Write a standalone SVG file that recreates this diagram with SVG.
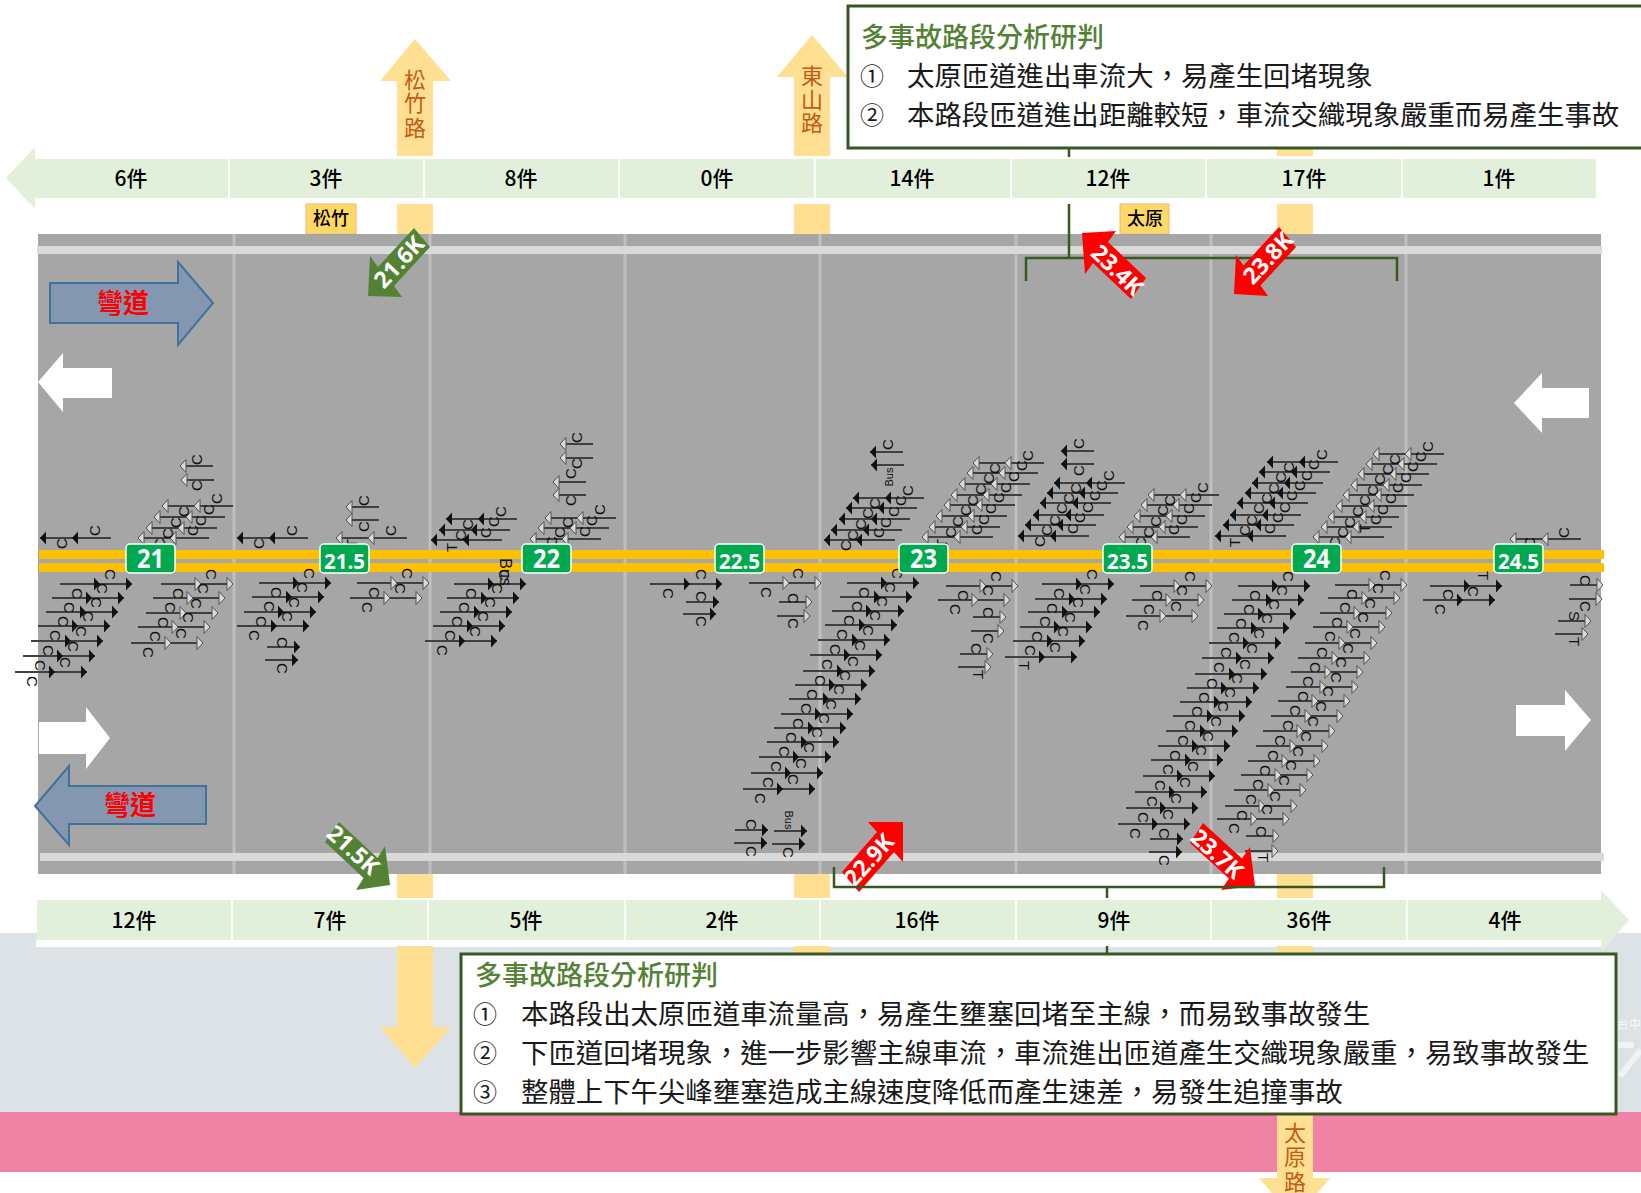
<svg xmlns="http://www.w3.org/2000/svg" width="1641" height="1193" viewBox="0 0 1641 1193">
<style>
text{font-family:"Noto Sans CJK TC","Noto Sans",sans-serif}
.lane{fill:#e2efda}
.sep{stroke:#fff;stroke-width:2}
.cnt{font-size:21px;font-weight:500;text-anchor:middle;fill:#000}
.ramp{fill:#ffe093}
.rt{font-size:22px;fill:#c55a11;text-anchor:middle}
.st{fill:#ffd966;stroke:#f4b183;stroke-width:1}
.stt{font-size:18px;font-weight:500;text-anchor:middle;fill:#000}
.div{stroke:#bfbfbf;stroke-width:3}
.edge{fill:#d9d9d9}
.yl{fill:#ffc000}
.sign{fill:#00a94f;stroke:#fff;stroke-width:1.5}
.kn{font-family:"Noto Sans",sans-serif;font-weight:700;fill:#fff;text-anchor:middle}
.wa{fill:#fff}
.bl{fill:#8497b0;stroke:#41719c;stroke-width:2}
.blt{font-size:27px;font-weight:700;fill:#f00;text-anchor:middle}
.kr{fill:#f00}
.kg{fill:#548235}
.kt{font-family:"Noto Sans",sans-serif;font-size:23px;font-weight:700;fill:#fff;text-anchor:middle}
.br{fill:none;stroke:#385723;stroke-width:2.5}
.box{fill:#fff;stroke:#385723;stroke-width:3}
.ti{font-size:27px;font-weight:500;fill:#548235}
.ln{font-size:27.4px;fill:#1a1a1a}
.num{font-size:24px;fill:#1a1a1a;text-anchor:middle}
.v{font-family:"Liberation Sans",sans-serif;font-size:15px;fill:#111}
.bus{font-family:"Liberation Sans",sans-serif;font-size:11px;fill:#111;text-anchor:middle}
.l{stroke:#404040;stroke-width:1.8;fill:none}
.hd{fill:#111}
.hl{fill:#d9d9d9;stroke:#505050;stroke-width:1}
</style>
<defs>
<g id="ed"><path class="l" d="M0 0H72"/><path class="hd" d="M40 0l-6-6.500v13zM72 0l-6-6.500v13z"/></g>
<g id="el"><path class="l" d="M0 0H72"/><path class="hl" d="M40 0l-6-6.500v13zM72 0l-6-6.500v13z"/></g>
<g id="wd"><path class="l" d="M0 0H71"/><path class="hd" d="M0 0l6-6.500v13zM32 0l6-6.500v13z"/></g>
<g id="wl"><path class="l" d="M0 0H71"/><path class="hl" d="M0 0l6-6.500v13zM32 0l6-6.500v13z"/></g>
<g id="sed"><path class="l" d="M0 0H33"/><path class="hd" d="M33 0l-6-6.500v13z"/></g>
<g id="sel"><path class="l" d="M0 0H33"/><path class="hl" d="M33 0l-6-6.500v13z"/></g>
<g id="swd"><path class="l" d="M0 0H33"/><path class="hd" d="M0 0l6-6.500v13z"/></g>
<g id="swl"><path class="l" d="M0 0H33"/><path class="hl" d="M0 0l6-6.500v13z"/></g>
</defs>
<rect width="1641" height="1193" fill="#fff"/>
<rect y="933" width="1641" height="179" fill="#dde2e6"/>
<rect y="1112" width="1641" height="60" fill="#f082a6"/>
<rect x="36" y="940" width="1566" height="7" fill="#fff"/>
<g id="watermark" opacity=".8"><text x="1617" y="1029" font-size="12" fill="#fff">台中</text><path d="M1618 1045H1634M1641 1050L1620 1076" stroke="#fff" stroke-width="6" fill="none" opacity=".7"/></g>

<g id="ramp-songzhu">
<path class="ramp" d="M415 39L451 81H433V156H397V81H380Z"/><rect class="ramp" x="397" y="204" width="36" height="30"/>
<rect class="ramp" x="397" y="874" width="36" height="24"/><path class="ramp" d="M397 946H433V1027H451L415 1068L380 1027H397Z"/>
<text class="rt" x="415 415 415" y="88 111 136">松竹路</text>
</g>
<g id="ramp-dongshan">
<path class="ramp" d="M812 35L848 77H830V156H794V77H777Z"/><rect class="ramp" x="794" y="204" width="36" height="30"/>
<rect class="ramp" x="794" y="874" width="36" height="24"/><rect class="ramp" x="794" y="946" width="36" height="10"/>
<text class="rt" x="812 812 812" y="84 108 131">東山路</text>
</g>
<g id="ramp-taiyuan">
<rect class="ramp" x="1277" y="140" width="36" height="16"/><rect class="ramp" x="1277" y="204" width="36" height="30"/>
<rect class="ramp" x="1277" y="874" width="36" height="24"/><rect class="ramp" x="1277" y="946" width="36" height="232"/><path class="ramp" d="M1259 1178H1330L1295 1220Z"/>
<text class="rt" x="1295 1295 1295" y="1141 1165 1190">太原路</text>
</g>

<g id="lane-top">
<path class="lane" d="M6 178L35 147V159H1596V198H35V209Z"/>
<path class="sep" d="M229 159V198M424 159V198M619 159V198M815 159V198M1011 159V198M1206 159V198M1402 159V198"/>
<text class="cnt" x="131" y="186">6件</text><text class="cnt" x="326" y="186">3件</text><text class="cnt" x="521" y="186">8件</text><text class="cnt" x="717" y="186">0件</text><text class="cnt" x="912" y="186">14件</text><text class="cnt" x="1108" y="186">12件</text><text class="cnt" x="1304" y="186">17件</text><text class="cnt" x="1499" y="186">1件</text>
</g>
<g id="lane-bottom">
<path class="lane" d="M37 900H1601V890L1629 920L1601 952V940H37Z"/>
<path class="sep" d="M232 900V940M428 900V940M625 900V940M820 900V940M1016 900V940M1211 900V940M1407 900V940"/>
<text class="cnt" x="134" y="928">12件</text><text class="cnt" x="330" y="928">7件</text><text class="cnt" x="526" y="928">5件</text><text class="cnt" x="722" y="928">2件</text><text class="cnt" x="917" y="928">16件</text><text class="cnt" x="1114" y="928">9件</text><text class="cnt" x="1309" y="928">36件</text><text class="cnt" x="1505" y="928">4件</text>
</g>
<g id="label-songzhu"><rect class="st" x="306" y="204" width="50" height="30"/><text class="stt" x="331" y="225">松竹</text></g>
<g id="label-taiyuan"><rect class="st" x="1120" y="204" width="49" height="30"/><text class="stt" x="1145" y="225">太原</text></g>

<g id="road">
<rect x="38" y="234" width="1563" height="640" fill="#a6a6a6"/>
<path class="div" d="M234 234V874M430 234V874M625 234V874M820 234V874M1016 234V874M1211 234V874M1406 234V874"/>
<rect class="edge" x="37" y="246" width="1565" height="8"/>
<rect class="edge" x="40" y="853" width="1564" height="8"/>
<rect class="yl" x="39" y="550" width="1565" height="9"/>
<rect class="yl" x="39" y="563" width="1565" height="9"/>
</g>
<g id="lane-arrows">
<path class="wa" d="M38 382L63 353V368H112V398H63V412Z"/>
<path class="wa" d="M1514 403L1542 373V388H1589V418H1542V433Z"/>
<path class="wa" d="M39 722H86V707L110 738L86 769V754H39Z"/>
<path class="wa" d="M1516 705H1565V690L1591 720L1565 751V736H1516Z"/>
</g>
<g id="curve-top"><path class="bl" d="M50 283H178V262L213 303L178 345V323H50Z"/><text class="blt" x="123" y="313" textLength="52" lengthAdjust="spacingAndGlyphs">彎道</text></g>
<g id="curve-bottom"><path class="bl" d="M206 786H69V766L35 806L69 845V824H206Z"/><text class="blt" x="130" y="815" textLength="52" lengthAdjust="spacingAndGlyphs">彎道</text></g>

<g id="bracket-top"><path class="br" d="M1026 281V258H1397V281M1069 204V258M1069 148V157"/></g>

<g id="vehicles">
<g id="v21">
<use href="#ed" x="60" y="584"/><use href="#ed" x="52" y="598"/><use href="#ed" x="46" y="612"/><use href="#ed" x="38" y="626"/><use href="#ed" x="31" y="641"/><use href="#ed" x="23" y="656"/><use href="#ed" x="15" y="672"/>
<text class="v" rotate="90" x="72 64 58 50 43 35 27 105 97 91 83 76 68 60" y="588 602 616 630 645 660 676 569 583 597 611 626 641 657">CCCCCCCCCCCCCC</text>
<use href="#el" x="161" y="584"/><use href="#el" x="153" y="598"/><use href="#el" x="146" y="613"/><use href="#el" x="138" y="627"/><use href="#el" x="131" y="643"/>
<text class="v" rotate="90" x="173 165 158 150 143 206 198 191 183 176" y="588 602 617 631 647 569 583 598 612 628">CCCCCCCCCC</text>
<use href="#wd" x="40" y="538"/><text class="v" rotate="-90" x="67 100" y="549 536">CC</text>
<use href="#wl" x="138" y="538"/><use href="#wl" x="146" y="528"/><use href="#wl" x="154" y="517"/><use href="#wl" x="162" y="506"/><use href="#swl" x="180" y="466"/><use href="#swl" x="181" y="480"/>
<text class="v" rotate="-90" x="165 173 181 189 198 206 214 222 202 202" y="549 539 528 517 536 526 515 504 465 491">CCCCCCCCCC</text>
</g>
<g id="v215">
<use href="#ed" x="259" y="583"/><use href="#ed" x="252" y="597"/><use href="#ed" x="244" y="612"/><use href="#ed" x="237" y="626"/><use href="#sed" x="267" y="647"/><use href="#sed" x="265" y="660"/>
<text class="v" rotate="90" x="271 264 256 249 304 297 289 282 277 277" y="587 601 616 630 568 582 597 611 637 663">CCCCCCCCCC</text>
<use href="#el" x="357" y="583"/><use href="#el" x="350" y="598"/>
<text class="v" rotate="90" x="369 362 402 395" y="587 602 568 583">CCCC</text>
<use href="#wd" x="237" y="538"/><text class="v" rotate="-90" x="264 297" y="549 536">CC</text>
<use href="#wl" x="336" y="538"/><use href="#swl" x="346" y="507"/><use href="#swl" x="346" y="520"/>
<text class="v" rotate="-90" x="357 396 369 369" y="548 536 506 532">TCCC</text>
</g>
<g id="v22">
<use href="#ed" x="454" y="584"/><use href="#ed" x="447" y="598"/><use href="#ed" x="440" y="612"/><use href="#ed" x="433" y="626"/><use href="#ed" x="425" y="641"/>
<text class="v" rotate="90" x="466 459 452 445 437 499 492 485 478 470" y="588 602 616 630 645 569 583 597 611 626">CCCCCCCCCC</text>
<use href="#wd" x="431" y="540"/><use href="#wd" x="439" y="530"/><use href="#wd" x="446" y="519"/>
<text class="v" rotate="-90" x="457 466 473 491 499 506" y="552 541 530 538 527 517">TCCCCC</text>
<text class="v" style="font-size:16px" transform="translate(505,572) rotate(90)" text-anchor="middle" dy="5">Bus</text>
<use href="#wl" x="530" y="539"/><use href="#wl" x="538" y="528"/><use href="#wl" x="545" y="518"/><use href="#swl" x="560" y="444"/><use href="#swl" x="560" y="458"/><use href="#swl" x="553" y="482"/><use href="#swl" x="553" y="495"/>
<text class="v" rotate="-90" x="557 565 573 590 597 605 582 582 576 576" y="547 538 528 537 526 515 443 469 479 506">CCCCCCCCCC</text>
</g>
<g id="v225">
<use href="#ed" x="650" y="584"/><use href="#sed" x="686" y="602"/><use href="#sed" x="683" y="614"/>
<text class="v" rotate="90" x="663 696 696 696" y="588 569 591 616">CCCC</text>
<use href="#el" x="749" y="583"/><use href="#sel" x="779" y="602"/><use href="#sel" x="777" y="616"/>
<text class="v" rotate="90" x="761 793 788 788" y="587 568 593 618">CCCC</text>
<use href="#sed" x="735" y="830"/><use href="#sed" x="734" y="843"/><use href="#sed" x="774" y="831"/><use href="#sed" x="772" y="844"/>
<text class="v" rotate="90" x="746 746 783" y="819 846 847">CCC</text>
<text class="bus" transform="translate(789,820) rotate(90)" dy="4">Bus</text>
</g>
<g id="v23">
<use href="#ed" x="847" y="583"/><use href="#ed" x="840" y="597"/><use href="#ed" x="832" y="611"/><use href="#ed" x="825" y="625"/><use href="#ed" x="818" y="640"/><use href="#ed" x="810" y="655"/><use href="#ed" x="803" y="671"/><use href="#ed" x="795" y="685"/><use href="#ed" x="789" y="699"/><use href="#ed" x="781" y="714"/><use href="#ed" x="774" y="728"/><use href="#ed" x="767" y="742"/><use href="#ed" x="759" y="757"/><use href="#ed" x="751" y="773"/><use href="#ed" x="743" y="789"/>
<text class="v" rotate="90" x="859 852 844 837 830 822 815 807 801 793 786 779 771 763 755 892 885 877 870 863 855 848 840 834 826 819 812 804 796 788" y="587 601 615 629 644 659 675 689 703 718 732 746 761 777 793 568 582 596 610 625 640 656 670 684 699 713 727 742 758 774">CCCCCCCCCCCCCCCCCCCCCCCCCCCCCC</text>
<use href="#wd" x="824" y="540"/><use href="#wd" x="831" y="530"/><use href="#wd" x="839" y="519"/><use href="#wd" x="846" y="508"/><use href="#wd" x="853" y="498"/><use href="#swd" x="870" y="452"/><use href="#swd" x="871" y="465"/>
<text class="v" rotate="-90" x="851 858 866 873 880 884 891 899 906 913 893" y="551 541 530 519 509 538 528 517 506 496 450">CCCCCCCCCCC</text>
<text class="bus" transform="translate(889,477) rotate(-90)" dy="4">Bus</text>
<use href="#wl" x="922" y="537"/><use href="#wl" x="929" y="527"/><use href="#wl" x="936" y="516"/><use href="#wl" x="944" y="505"/><use href="#wl" x="951" y="495"/><use href="#wl" x="959" y="484"/><use href="#wl" x="967" y="473"/><use href="#wl" x="973" y="463"/>
<text class="v" rotate="-90" x="947 956 963 971 978 986 994 1000 982 989 996 1004 1011 1019 1027 1033" y="548 538 527 516 506 495 484 474 535 525 514 503 493 482 471 461">TCCCCCCCCCCCCCCC</text>
<use href="#el" x="946" y="586"/><use href="#el" x="938" y="600"/><use href="#sel" x="973" y="617"/><use href="#sel" x="971" y="631"/><use href="#sel" x="960" y="654"/><use href="#sel" x="958" y="667"/>
<text class="v" rotate="90" x="958 950 991 983 983 983 971 973" y="590 604 571 585 607 633 643 670">CCCCCCCT</text>
</g>
<g id="v235">
<use href="#ed" x="1042" y="584"/><use href="#ed" x="1035" y="599"/><use href="#ed" x="1028" y="612"/><use href="#ed" x="1020" y="627"/><use href="#ed" x="1013" y="641"/><use href="#ed" x="1005" y="657"/>
<text class="v" rotate="90" x="1054 1047 1040 1032 1025 1019 1087 1080 1073 1065 1058 1050" y="588 603 616 631 645 661 569 584 597 612 626 642">CCCCCTCCCCCC</text>
<use href="#swd" x="1061" y="451"/><use href="#swd" x="1061" y="464"/><use href="#wd" x="1018" y="536"/><use href="#wd" x="1025" y="525"/><use href="#wd" x="1033" y="515"/><use href="#wd" x="1040" y="503"/><use href="#wd" x="1047" y="493"/><use href="#wd" x="1054" y="483"/>
<text class="v" rotate="-90" x="1084 1084 1045 1052 1060 1067 1074 1081 1078 1085 1093 1100 1107 1114" y="449 476 547 536 526 514 504 494 534 523 513 501 491 481">CCCCCCCCCCCCCC</text>
<use href="#wl" x="1119" y="537"/><use href="#wl" x="1127" y="527"/><use href="#wl" x="1134" y="516"/><use href="#wl" x="1141" y="505"/><use href="#wl" x="1148" y="495"/>
<text class="v" rotate="-90" x="1146 1154 1161 1168 1175 1179 1187 1194 1201 1208" y="548 538 527 516 506 535 525 514 503 493">CCCCCCCCCC</text>
<use href="#el" x="1140" y="586"/><use href="#el" x="1132" y="600"/><use href="#el" x="1126" y="616"/>
<text class="v" rotate="90" x="1152 1144 1138 1185 1177 1171" y="590 604 620 571 585 601">CCCCCC</text>
</g>
<g id="v24">
<use href="#wd" x="1215" y="536"/><use href="#wd" x="1223" y="525"/><use href="#wd" x="1230" y="515"/><use href="#wd" x="1237" y="503"/><use href="#wd" x="1245" y="493"/><use href="#wd" x="1252" y="483"/><use href="#wd" x="1259" y="472"/><use href="#wd" x="1267" y="462"/>
<text class="v" rotate="-90" x="1240 1250 1257 1264 1272 1279 1286 1294 1275 1283 1290 1297 1305 1312 1319 1327" y="547 536 526 514 504 494 483 473 534 523 513 501 491 481 470 460">TCCCCCCCCCCCCCCC</text>
<use href="#wl" x="1313" y="537"/><use href="#wl" x="1321" y="527"/><use href="#wl" x="1328" y="517"/><use href="#wl" x="1336" y="506"/><use href="#wl" x="1343" y="495"/><use href="#wl" x="1351" y="485"/><use href="#wl" x="1358" y="474"/><use href="#wl" x="1366" y="464"/><use href="#wl" x="1373" y="454"/>
<text class="v" rotate="-90" x="1340 1348 1355 1363 1370 1378 1385 1393 1400 1370 1381 1388 1396 1403 1411 1418 1426 1433" y="548 538 528 517 506 496 485 475 465 533 525 515 504 493 483 472 462 452">CCCCCCCCCTCCCCCCCC</text>
<use href="#ed" x="1238" y="586"/><use href="#ed" x="1232" y="600"/><use href="#ed" x="1224" y="614"/><use href="#ed" x="1217" y="628"/><use href="#ed" x="1209" y="643"/><use href="#ed" x="1202" y="658"/><use href="#ed" x="1195" y="674"/><use href="#ed" x="1187" y="688"/><use href="#ed" x="1180" y="702"/><use href="#ed" x="1173" y="716"/><use href="#ed" x="1166" y="731"/><use href="#ed" x="1158" y="746"/><use href="#ed" x="1151" y="760"/><use href="#ed" x="1143" y="776"/><use href="#ed" x="1135" y="792"/><use href="#ed" x="1126" y="808"/><use href="#ed" x="1118" y="824"/><use href="#sed" x="1150" y="839"/><use href="#sed" x="1149" y="852"/>
<text class="v" rotate="90" x="1250 1244 1236 1229 1221 1214 1207 1199 1192 1185 1178 1170 1163 1155 1147 1138 1130 1283 1277 1269 1262 1254 1247 1240 1232 1225 1218 1211 1203 1196 1188 1180 1171 1163 1159 1159" y="590 604 618 632 647 662 678 692 706 720 735 750 764 780 796 812 828 571 585 599 613 628 643 659 673 687 701 716 731 745 761 777 793 809 828 855">CCCCCCCCCCCCCCCCCCCCCCCCCCCCCCCCCCCC</text>
<use href="#el" x="1335" y="585"/><use href="#el" x="1328" y="598"/><use href="#el" x="1320" y="613"/><use href="#el" x="1313" y="627"/><use href="#el" x="1305" y="643"/><use href="#el" x="1298" y="658"/><use href="#el" x="1291" y="672"/><use href="#el" x="1286" y="687"/><use href="#el" x="1278" y="701"/><use href="#el" x="1271" y="716"/><use href="#el" x="1263" y="731"/><use href="#el" x="1256" y="746"/><use href="#el" x="1248" y="761"/><use href="#el" x="1241" y="775"/><use href="#el" x="1234" y="790"/><use href="#el" x="1225" y="806"/><use href="#el" x="1217" y="819"/><use href="#sel" x="1246" y="836"/><use href="#sel" x="1245" y="851"/>
<text class="v" rotate="90" x="1347 1340 1332 1325 1317 1310 1303 1298 1290 1283 1275 1268 1260 1253 1246 1237 1229 1380 1373 1365 1358 1350 1343 1336 1331 1323 1316 1308 1301 1293 1286 1279 1270 1262 1256 1258" y="589 602 617 631 647 662 676 691 705 720 735 750 765 779 794 810 823 570 583 598 612 628 643 657 672 686 701 716 731 746 760 775 791 804 826 853">CCCCCCCCCCCCCCCCCCCCCCCCCCCCCCCCCCCT</text>
</g>
<g id="v245">
<use href="#wl" x="1510" y="539"/><text class="v" rotate="-90" x="1535 1569" y="548 538">CC</text>
<use href="#ed" x="1430" y="586"/><use href="#ed" x="1423" y="600"/>
<text class="v" rotate="90" x="1443 1435 1478 1468" y="589 604 571 586">CCTC</text>
<use href="#sel" x="1570" y="585"/><use href="#sel" x="1569" y="599"/><use href="#sel" x="1558" y="621"/><use href="#sel" x="1555" y="634"/>
<text class="v" rotate="90" x="1580 1580 1569 1569" y="575 601 611 637">CCST</text>
</g>
</g>

<g id="km-signs">
<g id="km21"><rect class="sign" x="126" y="544" width="49" height="29" rx="4"/><text class="kn" x="150.500" y="568" font-size="27" textLength="27" lengthAdjust="spacingAndGlyphs">21</text></g>
<g id="km215"><rect class="sign" x="320" y="544" width="49" height="29" rx="4"/><text class="kn" x="344.500" y="569" font-size="22" textLength="41" lengthAdjust="spacingAndGlyphs">21.5</text></g>
<g id="km22"><rect class="sign" x="522" y="544" width="49" height="29" rx="4"/><text class="kn" x="546.500" y="568" font-size="27" textLength="27" lengthAdjust="spacingAndGlyphs">22</text></g>
<g id="km225"><rect class="sign" x="715" y="544" width="49" height="29" rx="4"/><text class="kn" x="739.500" y="569" font-size="22" textLength="41" lengthAdjust="spacingAndGlyphs">22.5</text></g>
<g id="km23"><rect class="sign" x="899" y="544" width="49" height="29" rx="4"/><text class="kn" x="923.500" y="568" font-size="27" textLength="27" lengthAdjust="spacingAndGlyphs">23</text></g>
<g id="km235"><rect class="sign" x="1103" y="544" width="49" height="29" rx="4"/><text class="kn" x="1127.500" y="569" font-size="22" textLength="41" lengthAdjust="spacingAndGlyphs">23.5</text></g>
<g id="km24"><rect class="sign" x="1292" y="544" width="49" height="29" rx="4"/><text class="kn" x="1316.500" y="568" font-size="27" textLength="27" lengthAdjust="spacingAndGlyphs">24</text></g>
<g id="km245"><rect class="sign" x="1494" y="544" width="49" height="29" rx="4"/><text class="kn" x="1518.500" y="569" font-size="22" textLength="41" lengthAdjust="spacingAndGlyphs">24.5</text></g>
</g>

<g id="k216"><polygon class="kg" points="414,228 378,267 370,256 368,296 402,297 394,286 430,247"/><text class="kt" transform="translate(399,262) rotate(-47)" dy="8">21.6K</text></g>
<g id="k215"><polygon class="kg" points="339,822 377.500,858 385,846 390,885 356,890 363.500,878 325,842"/><text class="kt" transform="translate(353,850) rotate(42)" dy="8">21.5K</text></g>
<g id="k234"><polygon class="kr" points="1146,278 1108,242 1116,231 1082,233 1085,274 1093,263 1131,299"/><text class="kt" transform="translate(1117,270) rotate(44)" dy="8">23.4K</text></g>
<g id="k238"><polygon class="kr" points="1279,227 1243.500,265.500 1236,255 1234,294 1268,296 1260.500,285.500 1296,247"/><text class="kt" transform="translate(1268,258) rotate(-47)" dy="8">23.8K</text></g>
<g id="k229"><polygon class="kr" points="842,872 877,832 868,822 903,822 903,862 894,852 859,892"/><text class="kt" transform="translate(869,860) rotate(-48)" dy="8">22.9K</text></g>
<g id="k237"><polygon class="kr" points="1203,823 1242,858.500 1250,847 1255,886 1221,890 1229,878.500 1190,843"/><text class="kt" transform="translate(1217,854) rotate(42)" dy="8">23.7K</text></g>

<g id="bracket-bottom"><path class="br" d="M834 867V887H1384V867M1107 887V898M1107 946V955"/></g>

<g id="analysis-top">
<rect class="box" x="848" y="6" width="800" height="142"/>
<text class="ti" x="861" y="47">多事故路段分析研判</text>
<text class="num" x="872" y="85">①</text><text class="ln" x="907" y="86">太原匝道進出車流大，易產生回堵現象</text>
<text class="num" x="872" y="124">②</text><text class="ln" x="907" y="125">本路段匝道進出距離較短，車流交織現象嚴重而易產生事故</text>
</g>
<g id="analysis-bottom">
<rect class="box" x="461" y="954" width="1155" height="160"/>
<text class="ti" x="475" y="985">多事故路段分析研判</text>
<text class="num" x="485" y="1023">①</text><text class="ln" x="521" y="1024">本路段出太原匝道車流量高，易產生壅塞回堵至主線，而易致事故發生</text>
<text class="num" x="485" y="1062">②</text><text class="ln" x="521" y="1063">下匝道回堵現象，進一步影響主線車流，車流進出匝道產生交織現象嚴重，易致事故發生</text>
<text class="num" x="485" y="1101">③</text><text class="ln" x="521" y="1102">整體上下午尖峰壅塞造成主線速度降低而產生速差，易發生追撞事故</text>
</g>
</svg>
